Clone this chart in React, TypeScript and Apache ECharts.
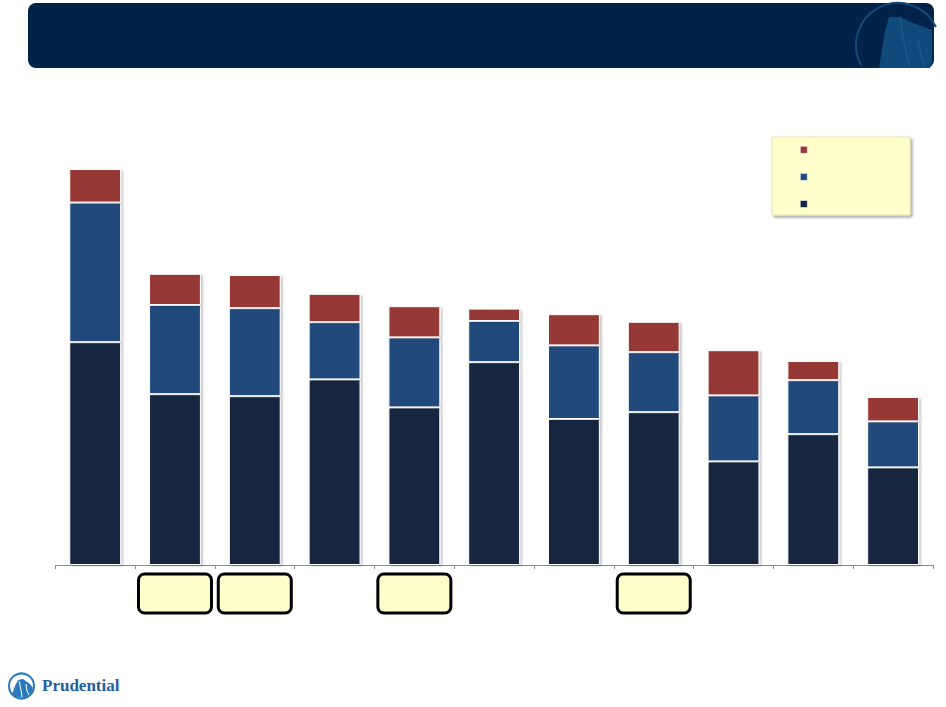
import React, { useEffect, useRef } from "react";
import * as echarts from "echarts";

const categories = ["1", "2", "3", "4", "5", "6", "7", "8", "9", "10", "11"];
const baseValues = [55.7, 42.7, 42.2, 46.4, 39.4, 50.7, 36.5, 38.2, 25.9, 32.7, 24.4];
const middleValues = [34.9, 22.3, 22.0, 14.3, 17.5, 10.3, 18.4, 15.0, 16.5, 13.5, 11.5];
const topValues = [8.4, 7.8, 8.3, 7.1, 7.8, 3.1, 7.8, 7.6, 11.3, 4.8, 6.1];
const seriesNames = ["Base", "Middle", "Top"];
const calloutCategories = [1, 2, 4, 7];

const COLORS = ["#14253F", "#214A7C", "#963835"];

export default function App() {
  const ref = useRef<HTMLDivElement>(null);

  useEffect(() => {
    document.body.style.margin = "0";
    if (!ref.current) return;
    const chart = echarts.init(ref.current, undefined, { renderer: "svg" });

    const barStyle = (c: string) => ({
      color: c,
      borderColor: "#ffffff",
      borderWidth: 1,
      shadowColor: "rgba(0,0,0,0.22)",
      shadowBlur: 2,
      shadowOffsetX: 2,
      shadowOffsetY: 1,
    });

    const gridLeft = 55.3;
    const gridRight = 13;
    const catW = (946 - gridLeft - gridRight) / categories.length;

    const callouts = calloutCategories.map((ci) => {
      const cx = gridLeft + catW * (ci + 0.5);
      return {
        type: "rect",
        z: 1,
        shape: { x: cx - 36.5, y: 574, width: 73, height: 39, r: 6 },
        style: { fill: "#FFFFCC", stroke: "#000000", lineWidth: 3 },
      };
    });

    const option: any = {
      animation: false,
      backgroundColor: "#ffffff",
      grid: { left: gridLeft, right: gridRight, top: 165, bottom: 142, containLabel: false },
      xAxis: {
        type: "category",
        data: categories,
        axisLine: { lineStyle: { color: "#8c8c8c", width: 1 } },
        axisTick: { show: true, length: 4, lineStyle: { color: "#8c8c8c" } },
        axisLabel: { show: false },
      },
      yAxis: {
        type: "value",
        min: 0,
        max: 100,
        show: false,
        splitLine: { show: false },
      },
      legend: {
        orient: "vertical",
        left: 800,
        top: 146,
        padding: 0,
        itemWidth: 7,
        itemHeight: 7,
        itemGap: 19.5,
        icon: "rect",
        z: 10,
        itemStyle: {
          borderWidth: 0.6,
          borderColor: "#f4f4f4",
          shadowBlur: 0,
          shadowOffsetX: 0,
          shadowOffsetY: 0,
        },
        data: [seriesNames[2], seriesNames[1], seriesNames[0]],
        formatter: () => "",
        textStyle: { fontSize: 6, lineHeight: 7 },
        selectedMode: false,
      },
      series: [
        {
          name: seriesNames[0],
          type: "bar",
          stack: "total",
          barCategoryGap: "35%",
          data: baseValues,
          itemStyle: barStyle(COLORS[0]),
        },
        {
          name: seriesNames[1],
          type: "bar",
          stack: "total",
          barCategoryGap: "35%",
          data: middleValues,
          itemStyle: barStyle(COLORS[1]),
        },
        {
          name: seriesNames[2],
          type: "bar",
          stack: "total",
          barCategoryGap: "35%",
          data: topValues,
          itemStyle: barStyle(COLORS[2]),
        },
      ],
      graphic: [
        {
          type: "rect",
          z: 0,
          shape: { x: 28, y: 3, width: 906, height: 65, r: 8 },
          style: { fill: "#01234A" },
        },
        {
          type: "polygon",
          z: 1,
          shape: {
            points: [
              [879, 68],
              [882, 50],
              [885, 32],
              [889, 17],
              [900, 17],
              [910, 22],
              [922, 26],
              [932, 30],
              [932, 60],
              [930, 68],
            ],
          },
          style: { fill: "#0F4A7B" },
        },
        {
          type: "polyline",
          z: 2,
          shape: { points: [[900, 17], [903, 38], [907, 56], [910, 68]] },
          style: { stroke: "#1B5B8E", lineWidth: 1.2, fill: "none" },
        },
        {
          type: "polyline",
          z: 2,
          shape: { points: [[918, 40], [921, 55], [925, 68]] },
          style: { stroke: "#1B5B8E", lineWidth: 1.2, fill: "none" },
        },
        {
          type: "arc",
          z: 2,
          shape: { cx: 898, cy: 45, r: 42, startAngle: 2.63, endAngle: 5.84, clockwise: true },
          style: { stroke: "#14497A", lineWidth: 2, fill: "none" },
        },
        {
          type: "rect",
          z: 1,
          shape: { x: 772, y: 137, width: 138, height: 78 },
          style: {
            fill: "#FFFFCC",
            stroke: "#E6E3B8",
            lineWidth: 1,
            shadowColor: "rgba(0,0,0,0.35)",
            shadowBlur: 3,
            shadowOffsetX: 2,
            shadowOffsetY: 2,
          },
        },
        ...callouts,
        {
          type: "circle",
          z: 1,
          shape: { cx: 21.5, cy: 686, r: 12.5 },
          style: { fill: "#ffffff", stroke: "#2A78BD", lineWidth: 2 },
        },
        {
          type: "polygon",
          z: 2,
          shape: {
            points: [
              [12, 694],
              [15, 686],
              [18, 680],
              [23, 679],
              [30, 684],
              [33, 688],
              [31, 694],
              [24, 698],
              [17, 697],
            ],
          },
          style: { fill: "#2A78BD" },
        },
        {
          type: "polyline",
          z: 3,
          shape: { points: [[19, 681], [21, 690], [22, 697]] },
          style: { stroke: "#ffffff", lineWidth: 1, fill: "none" },
        },
        {
          type: "polyline",
          z: 3,
          shape: { points: [[26, 684], [27, 691], [29, 695]] },
          style: { stroke: "#ffffff", lineWidth: 1, fill: "none" },
        },
        {
          type: "text",
          z: 3,
          x: 42,
          y: 694,
          style: {
            text: "Prudential",
            fill: "#1F5E9F",
            font: "bold 17px 'Liberation Serif', 'DejaVu Serif', serif",
            textVerticalAlign: "bottom",
            verticalAlign: "bottom",
          },
        },
      ],
    };

    chart.setOption(option);
    return () => chart.dispose();
  }, []);

  return <div ref={ref} style={{ width: 946, height: 707 }} />;
}
